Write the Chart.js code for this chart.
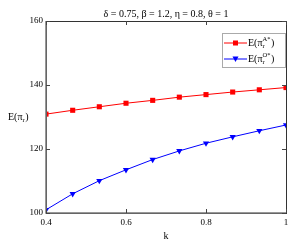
<!DOCTYPE html>
<html>
<head>
<meta charset="utf-8">
<script src="https://cdn.jsdelivr.net/npm/chart.js@4.4.1/dist/chart.umd.min.js"></script>
<style>
  html, body { margin: 0; padding: 0; background: #fff; }
  #wrap { width: 302px; height: 249px; }
</style>
</head>
<body>
<div id="wrap"><canvas id="kChart"></canvas></div>
<script>
const kValues = [0.4, 0.4667, 0.5333, 0.6, 0.6667, 0.7333, 0.8, 0.8667, 0.9333, 1];
const profitA = [130.9, 132.1, 133.2, 134.3, 135.2, 136.2, 137.0, 137.8, 138.5, 139.2];
const profitO = [101.0, 106.0, 110.1, 113.5, 116.7, 119.4, 121.8, 123.8, 125.7, 127.5];
const xTicks = [0.4, 0.6, 0.8, 1];
const yTicks = [100, 120, 140, 160];
const titleText = 'δ = 0.75, β = 1.2, η = 0.8, θ = 1';

const serif = '"Liberation Serif", "DejaVu Serif", serif';

// E(π_r^sup) with a subscript r and an optional superscript
function drawPiLabel(ctx, x, y, sup, size) {
    ctx.textAlign = 'left';
    ctx.textBaseline = 'middle';
    ctx.font = size + 'px ' + serif;
    ctx.fillText('E(π', x, y);
    let cx = x + ctx.measureText('E(π').width;
    ctx.font = (size * 0.65) + 'px ' + serif;
    ctx.fillText('r', cx, y + size * 0.3);
    let w = ctx.measureText('r').width;
    if (sup) {
        ctx.fillText(sup, cx, y - size * 0.35);
        w = Math.max(w, ctx.measureText(sup).width);
    }
    cx += w + 0.5;
    ctx.font = size + 'px ' + serif;
    ctx.fillText(')', cx, y);
}

const decorPlugin = {
    id: 'decor',
    afterDraw(chart) {
        const ctx = chart.ctx;
        const a = chart.chartArea;
        const xs = chart.scales.x;
        const ys = chart.scales.y;
        ctx.save();

        // frame
        ctx.strokeStyle = '#333';
        ctx.lineWidth = 1;
        ctx.strokeRect(a.left + 0.5, a.top + 0.5, a.right - a.left, a.bottom - a.top);
        ctx.strokeStyle = '#777';
        ctx.lineWidth = 1.5;
        ctx.beginPath();
        ctx.moveTo(a.left, a.top);
        ctx.lineTo(a.left, a.bottom);
        ctx.lineTo(a.right, a.bottom);
        ctx.stroke();

        // inward ticks on all four sides
        ctx.strokeStyle = '#444';
        ctx.lineWidth = 1;
        ctx.beginPath();
        xTicks.forEach(v => {
            const px = Math.round(xs.getPixelForValue(v)) + 0.5;
            ctx.moveTo(px, a.bottom); ctx.lineTo(px, a.bottom - 4);
            ctx.moveTo(px, a.top); ctx.lineTo(px, a.top + 4);
        });
        yTicks.forEach(v => {
            const py = Math.round(ys.getPixelForValue(v)) + 0.5;
            ctx.moveTo(a.left, py); ctx.lineTo(a.left + 4, py);
            ctx.moveTo(a.right, py); ctx.lineTo(a.right - 4, py);
        });
        ctx.stroke();

        // title
        ctx.fillStyle = '#000';
        ctx.font = '10px ' + serif;
        ctx.textAlign = 'center';
        ctx.textBaseline = 'middle';
        ctx.fillText(titleText, (a.left + a.right) / 2, 14);

        // axis titles
        ctx.fillText('k', (a.left + a.right) / 2, 236);
        drawPiLabel(ctx, 8, 117, null, 10);

        // legend
        const lx = 222, ly = 33, lw = 64, lh = 34;
        ctx.fillStyle = '#fff';
        ctx.fillRect(lx, ly, lw, lh);
        ctx.strokeStyle = '#aaa';
        ctx.lineWidth = 1;
        ctx.strokeRect(lx + 0.5, ly + 0.5, lw - 1, lh);
        chart.data.datasets.forEach((ds, i) => {
            const yy = ly + 10 + i * 16;
            ctx.strokeStyle = ds.borderColor;
            ctx.lineWidth = 1;
            ctx.beginPath();
            ctx.moveTo(lx + 2, yy); ctx.lineTo(lx + 25, yy);
            ctx.stroke();
            ctx.fillStyle = ds.borderColor;
            if (ds.pointStyle === 'rect') {
                ctx.fillRect(lx + 11, yy - 2.5, 5, 5);
            } else {
                ctx.beginPath();
                ctx.moveTo(lx + 10.5, yy - 2.5);
                ctx.lineTo(lx + 16.5, yy - 2.5);
                ctx.lineTo(lx + 13.5, yy + 3);
                ctx.closePath();
                ctx.fill();
            }
            ctx.fillStyle = '#000';
            drawPiLabel(ctx, lx + 26, yy, ds.sup, 10);
        });
        ctx.restore();
    }
};

new Chart(document.getElementById('kChart'), {
    type: 'line',
    data: {
        datasets: [
            {
                label: 'E(πr A*)',
                sup: 'A*',
                data: kValues.map((k, i) => ({ x: k, y: profitA[i] })),
                borderColor: '#ff0000',
                backgroundColor: '#ff0000',
                borderWidth: 1,
                pointStyle: 'rect',
                pointRadius: 3.6,
                pointBorderWidth: 0,
                tension: 0
            },
            {
                label: 'E(πr O*)',
                sup: 'O*',
                data: kValues.map((k, i) => ({ x: k, y: profitO[i] })),
                borderColor: '#0000ff',
                backgroundColor: '#0000ff',
                borderWidth: 1,
                pointStyle: 'triangle',
                pointRotation: 180,
                pointRadius: 3.6,
                pointBorderWidth: 0,
                tension: 0
            }
        ]
    },
    options: {
        responsive: true,
        maintainAspectRatio: false,
        animation: false,
        layout: { padding: { top: 21, right: 16, left: 0, bottom: 0 } },
        plugins: {
            legend: { display: false },
            tooltip: { enabled: false }
        },
        scales: {
            x: {
                type: 'linear',
                min: 0.4,
                max: 1,
                afterFit: s => { s.height = 36; },
                afterBuildTicks: s => { s.ticks = xTicks.map(v => ({ value: v })); },
                grid: { display: false, drawTicks: false },
                border: { display: false },
                ticks: {
                    padding: 4,
                    color: '#000',
                    font: { family: serif, size: 9 },
                    callback: v => String(v)
                }
            },
            y: {
                min: 100,
                max: 160,
                afterFit: s => { s.width = 46; },
                afterBuildTicks: s => { s.ticks = yTicks.map(v => ({ value: v })); },
                grid: { display: false, drawTicks: false },
                border: { display: false },
                ticks: {
                    padding: 3,
                    color: '#000',
                    font: { family: serif, size: 9 }
                }
            }
        }
    },
    plugins: [decorPlugin]
});
</script>
</body>
</html>
